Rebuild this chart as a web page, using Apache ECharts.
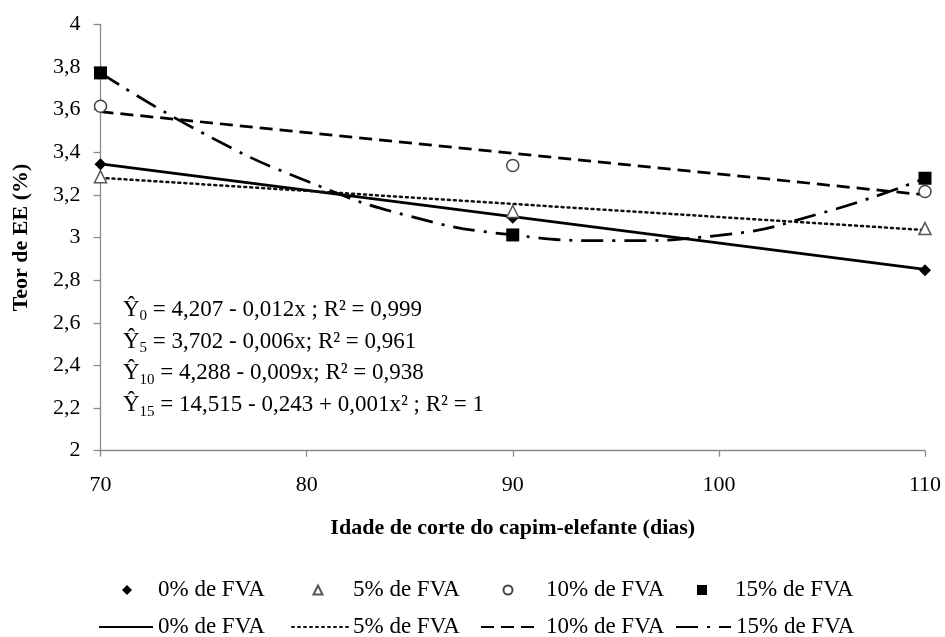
<!DOCTYPE html>
<html>
<head>
<meta charset="utf-8">
<script src="https://cdn.jsdelivr.net/npm/echarts@6/dist/echarts.min.js"></script>
<style>html,body{margin:0;padding:0;background:#fff;}#c{width:945px;height:637px;}</style>
</head>
<body>
<div id="c"></div>
<script>
// ---- data ----
const xTickLabels = ['70', '80', '90', '100', '110'];
const yTickLabels = ['2', '2,2', '2,4', '2,6', '2,8', '3', '3,2', '3,4', '3,6', '3,8', '4'];
const days = [70, 90, 110];
const obs0 = [3.343, 3.093, 2.846];
const obs5 = [3.285, 3.122, 3.042];
const obs10 = [3.616, 3.338, 3.216];
const obs15 = [3.772, 3.012, 3.278];
const trendDays = [70, 110];
const fit0 = [3.345, 2.85];
const fit5 = [3.28, 3.035];
const fit10 = [3.59, 3.20];
const curveDays = [70, 75, 80, 85, 90, 95, 100, 105, 110];
const fit15 = [3.772, 3.488, 3.265, 3.10, 3.012, 2.985, 3.01, 3.115, 3.278];
const legendLabels = ['0% de FVA', '5% de FVA', '10% de FVA', '15% de FVA'];
const eqSubs = ['0', '5', '10', '15'];
const eqBodies = [
  ' = 4,207 - 0,012x ; R² = 0,999',
  ' = 3,702 - 0,006x; R² = 0,961',
  ' = 4,288 - 0,009x; R² = 0,938',
  ' = 14,515 - 0,243 + 0,001x² ; R² = 1'
];

const FONT = 'Liberation Serif';
const pair = (xs, ys) => xs.map((x, i) => [x, ys[i]]);
const labelOf = {p0: legendLabels[0], p5: legendLabels[1], p10: legendLabels[2], p15: legendLabels[3],
                 t0: legendLabels[0], t5: legendLabels[1], t10: legendLabels[2], t15: legendLabels[3]};

const chart = echarts.init(document.getElementById('c'));

// marker legend: small icon, text pushed right by padding
function mkMarkLegend(name, iconCenter, textStart, size, icon) {
  return {
    data: [{name: name, icon: icon}], left: iconCenter - size / 2, top: 577,
    itemWidth: size, itemHeight: size, padding: 0, selectedMode: false,
    formatter: n => labelOf[n],
    textStyle: {fontFamily: FONT, fontSize: 23, color: '#000', lineHeight: 26,
      padding: [0, 0, 0, textStart - (iconCenter + size / 2) - 5]}
  };
}
// line legend: line only, symbol hidden
function mkLineLegend(name, left, w) {
  return {
    data: [{name: name}], left: left, top: 614,
    itemWidth: w, itemHeight: 14, padding: 0, selectedMode: false,
    itemStyle: {opacity: 0},
    formatter: n => labelOf[n],
    textStyle: {fontFamily: FONT, fontSize: 23, color: '#000', lineHeight: 26}
  };
}

const lineBase = {type: 'line', showSymbol: false, symbol: 'none', silent: true, z: 2};
const scatBase = {type: 'scatter', z: 5};

const option = {
  animation: false,
  backgroundColor: '#fff',
  grid: {left: 100.5, right: 20, top: 24.3, bottom: 186.3, containLabel: false},
  xAxis: {
    type: 'value', min: 70, max: 110, interval: 10,
    name: 'Idade de corte do capim-elefante (dias)', nameLocation: 'middle', nameGap: 67,
    nameTextStyle: {fontFamily: FONT, fontSize: 22, fontWeight: 'bold', color: '#000'},
    axisLine: {lineStyle: {color: '#8a8a8a', width: 1.3}},
    axisTick: {show: true, length: 6, lineStyle: {color: '#8a8a8a', width: 1.3}},
    axisLabel: {margin: 24, fontFamily: FONT, fontSize: 22, color: '#000',
      formatter: v => xTickLabels[Math.round((v - 70) / 10)]},
    splitLine: {show: false}
  },
  yAxis: {
    type: 'value', min: 2, max: 4, interval: 0.2,
    name: 'Teor de EE (%)', nameLocation: 'middle', nameGap: 68, nameRotate: 90,
    nameTextStyle: {fontFamily: FONT, fontSize: 22, fontWeight: 'bold', color: '#000'},
    axisLine: {show: true, lineStyle: {color: '#8a8a8a', width: 1.3}},
    axisTick: {show: true, length: 7, lineStyle: {color: '#8a8a8a', width: 1.3}},
    axisLabel: {margin: 20, fontFamily: FONT, fontSize: 22, color: '#000',
      formatter: v => yTickLabels[Math.round((v - 2) / 0.2)]},
    splitLine: {show: false}
  },
  legend: [
    mkMarkLegend('p0', 127, 158, 10, 'diamond'),
    mkMarkLegend('p5', 317, 352, 9, 'triangle'),
    mkMarkLegend('p10', 507, 545, 9, 'circle'),
    mkMarkLegend('p15', 702, 735, 10, 'rect'),
    mkLineLegend('t0', 98, 54),
    mkLineLegend('t5', 291, 56),
    mkLineLegend('t10', 480, 60),
    mkLineLegend('t15', 675, 55)
  ],
  graphic: eqBodies.map((b, i) => ({
    type: 'text', x: 123, y: 310 + i * 31.7,
    style: {
      text: '{t|Ŷ}{s|' + eqSubs[i] + '}{t|' + b + '}',
      verticalAlign: 'middle', align: 'left',
      rich: {
        t: {fontFamily: FONT, fontSize: 23, fill: '#000', lineHeight: 28},
        s: {fontFamily: FONT, fontSize: 15, fill: '#000', lineHeight: 16, verticalAlign: 'bottom'}
      }
    }
  })),
  series: [
    Object.assign({}, lineBase, {name: 't0', data: pair(trendDays, fit0),
      lineStyle: {color: '#000', width: 2.75, type: 'solid'}, itemStyle: {color: '#000'}}),
    Object.assign({}, lineBase, {name: 't5', data: pair(trendDays, fit5),
      lineStyle: {color: '#111', width: 2.5, type: [2, 4], cap: 'round'}, itemStyle: {color: '#111'}}),
    Object.assign({}, lineBase, {name: 't10', data: pair(trendDays, fit10),
      lineStyle: {color: '#000', width: 2.75, type: [13, 7]}, itemStyle: {color: '#000'}}),
    Object.assign({}, lineBase, {name: 't15', data: pair(curveDays, fit15), smooth: true,
      lineStyle: {color: '#000', width: 2.75, type: [22, 9, 3, 9]}, itemStyle: {color: '#000'}}),
    Object.assign({}, scatBase, {name: 'p0', data: pair(days, obs0), symbol: 'diamond', symbolSize: 12,
      itemStyle: {color: '#000', opacity: 1}}),
    Object.assign({}, scatBase, {name: 'p5', data: pair(days, obs5), symbol: 'triangle', symbolSize: 12,
      itemStyle: {color: '#fff', borderColor: '#555', borderWidth: 1.5, opacity: 1}}),
    Object.assign({}, scatBase, {name: 'p10', data: pair(days, obs10), symbol: 'circle', symbolSize: 12,
      itemStyle: {color: '#fff', borderColor: '#444', borderWidth: 1.5, opacity: 1}}),
    Object.assign({}, scatBase, {name: 'p15', data: pair(days, obs15), symbol: 'rect', symbolSize: 13,
      itemStyle: {color: '#000', opacity: 1}})
  ]
};
chart.setOption(option);
</script>
</body>
</html>
